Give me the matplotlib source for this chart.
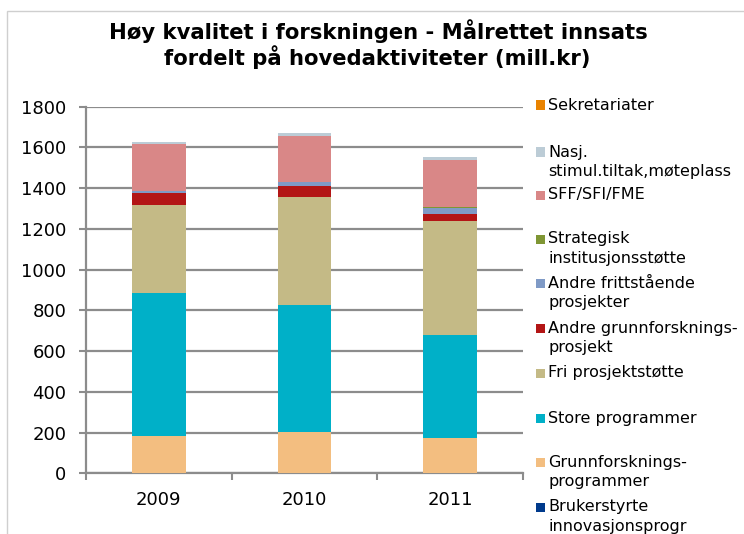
import matplotlib
matplotlib.use("Agg")
import matplotlib.pyplot as plt
from matplotlib.patches import Rectangle

years = ["2009", "2010", "2011"]

# stacking order: bottom -> top
series = [
    "Brukerstyrte\ninnovasjonsprogr",
    "Grunnforsknings-\nprogrammer",
    "Store programmer",
    "Fri prosjektstøtte",
    "Andre grunnforsknings-\nprosjekt",
    "Andre frittstående\nprosjekter",
    "Strategisk\ninstitusjonsstøtte",
    "SFF/SFI/FME",
    "Nasj.\nstimul.tiltak,møteplass",
    "Sekretariater",
]
brukerstyrte = [0, 0, 0]
grunnforsk_progr = [182, 202, 171]
store_progr = [703, 625, 509]
fri_prosjekt = [431, 530, 559]
andre_grunnforsk = [60, 53, 34]
andre_fritt = [10, 20, 32]
strategisk = [0, 0, 3]
sff = [232, 225, 229]
nasj = [8, 15, 16]
sekretariater = [0, 0, 0]
values = [brukerstyrte, grunnforsk_progr, store_progr, fri_prosjekt, andre_grunnforsk,
          andre_fritt, strategisk, sff, nasj, sekretariater]

colors = ["#003A8C", "#F3BE80", "#00B0C8", "#C4BA86", "#B31515",
          "#7F9AC6", "#7F9634", "#D98787", "#BCCCD6", "#E98300"]

W, H = 744, 534
fig = plt.figure(figsize=(W / 100, H / 100), dpi=100)
plt.rcParams['font.family'] = ['DejaVu Sans']

# outer chart border
fig.patches.append(Rectangle((7 / W, -0.1), 1.1, 1.1 - 11 / H, transform=fig.transFigure,
                             fill=False, edgecolor="#CFCFCF", linewidth=1.0))

ax = fig.add_axes([86 / W, 1 - 473.3 / H, (522.7 - 86) / W, (473.3 - 106.7) / H])

x = range(len(years))
bottom = [0, 0, 0]
for vals, col in zip(values, colors):
    ax.bar(x, vals, width=0.368, bottom=bottom, color=col, edgecolor="none", zorder=3)
    bottom = [b + v for b, v in zip(bottom, vals)]

ax.set_ylim(0, 1800)
ax.set_xlim(-0.5, 2.5)
ax.set_yticks(range(0, 1801, 200))
ax.yaxis.grid(True, color="#8C8C8C", linewidth=1.6, zorder=0)
ax.set_axisbelow(True)
ax.set_xticks([0, 1, 2])
ax.set_xticklabels(years)
ax.set_xticks([-0.5, 0.5, 1.5, 2.5], minor=True)
ax.tick_params(axis="x", which="major", length=0, pad=13, labelsize=13)
ax.tick_params(axis="x", which="minor", length=5, color="#8C8C8C", width=1.5)
ax.tick_params(axis="y", length=5, color="#8C8C8C", width=1.5, pad=9, labelsize=13)
for s in ["top", "right"]:
    ax.spines[s].set_visible(False)
for s in ["left", "bottom"]:
    ax.spines[s].set_color("#8C8C8C")
    ax.spines[s].set_linewidth(1.6)

fig.text(378 / W, 1 - 31 / H, "Høy kvalitet i forskningen - Målrettet innsats",
         ha="center", va="center", fontsize=15.2, fontweight="bold")
fig.text(377 / W, 1 - 57 / H, "fordelt på hovedaktiviteter (mill.kr)",
         ha="center", va="center", fontsize=15.2, fontweight="bold")

# legend, drawn by hand (top -> bottom)
legend_y = [105, 152, 195, 239, 283, 328, 373, 418, 462, 507]
line_gap = 19.5
for lab, col, yc in zip(series[::-1], colors[::-1], legend_y):
    fig.patches.append(Rectangle((536 / W, 1 - (yc + 4.5) / H), 9 / W, 9 / H,
                                 transform=fig.transFigure, color=col, linewidth=0))
    for i, line in enumerate(lab.split("\n")):
        fig.text(548 / W, 1 - (yc + i * line_gap) / H, line, ha="left", va="center",
                 fontsize=11.5)

fig.savefig("out.png", dpi=100)
